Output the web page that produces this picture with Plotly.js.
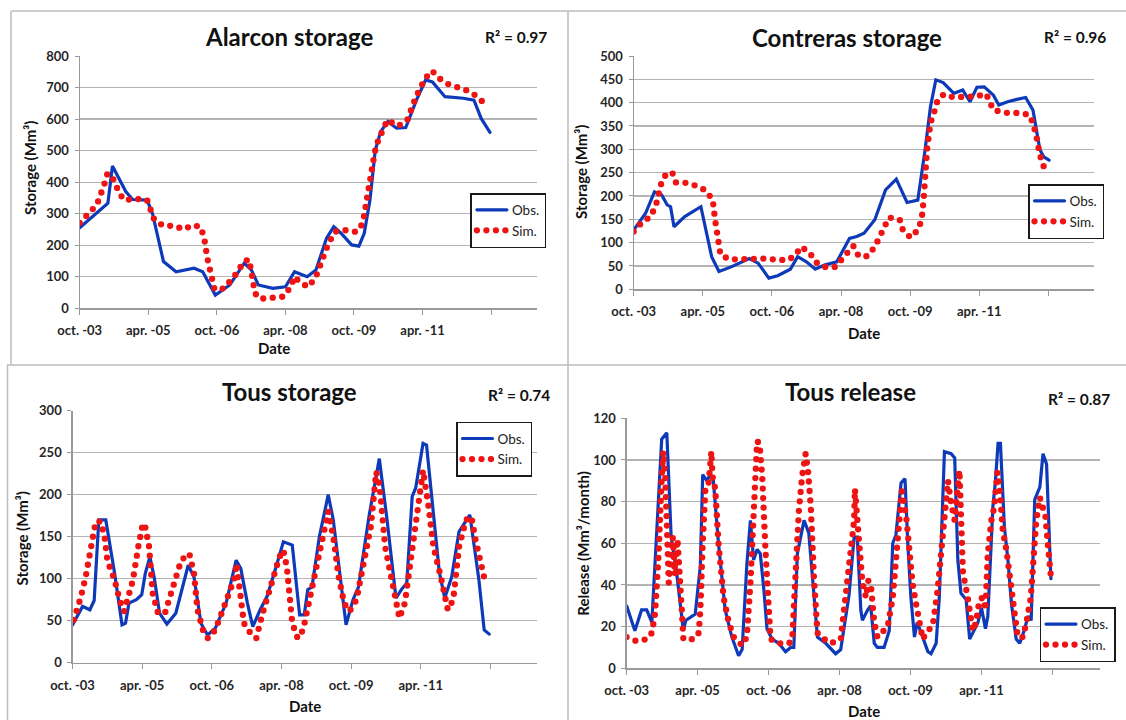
<!DOCTYPE html>
<html><head><meta charset="utf-8">
<script src="https://cdn.plot.ly/plotly-3.0.1.min.js"></script>
<style>
html,body{margin:0;padding:0;background:#fff;}
#chart{width:1126px;height:720px;}
.js-line{stroke-linecap:round;}
</style></head><body><div id="chart"></div>
<script>
// x = months since Oct 2003
const tickMonths = [0,18,36,54,72,90];
const tickLabels = ['oct. -03','apr. -05','oct. -06','apr. -08','oct. -09','apr. -11'];
const extraTickMonths = [108];   // unlabelled tick (oct. -12)

// Alarcon storage (Mm3)
const alarconObsMonth = [0,4.5,7.4,8.6,12.1,13.9,17.7,19.1,22,25.3,30,32.3,35.6,39.4,43.2,45.1,46.9,50.7,54,56.4,59.7,62,64.8,66.7,68.6,71.4,73.3,74.7,76.2,77.6,79,80.9,83.2,85.6,88.4,90.8,92.6,95.9,100.7,103.5,105.4,107.7];
const alarconObs      = [255,301,333,451,370,345,343,301,148,116,127,116,42,74,143,121,74,63,68,116,100,121,222,259,238,201,197,238,343,502,560,592,571,573,660,724,718,671,666,660,602,558];
const alarconSimMonth = [0,2.2,4.5,6.4,7.3,9,10.2,11.6,14.8,17.7,18.6,19.6,21.9,25.2,27.1,29.9,31.8,32.7,33.5,34.6,35.4,37.9,41.2,43.1,44.4,45,46,47.3,50.6,53.5,55.4,56.3,58.2,60.1,62,63.9,65.3,67.1,69.5,72.3,73.7,74.6,75.6,76.5,77.5,78.4,79.8,80.8,83.6,86,88.3,90.7,92.5,94.4,96.7,99.1,101.4,103.8,106.1];
const alarconSim      = [271,301,328,391,428,407,370,343,347,343,317,280,262,261,250,264,257,222,159,90,60,63,111,148,155,121,48,30,34,37,68,100,79,68,100,159,206,243,248,243,254,290,359,438,497,534,565,597,578,597,671,729,753,729,711,703,692,676,652];

// Contreras storage (Mm3)
const contrerasObsMonth = [0,3.1,5.4,7.3,8.7,9.6,10.5,13.3,17.5,18.9,20.3,22.2,25.4,30.1,32.4,35.2,37.5,40.8,42.7,45,47.3,49.7,52.9,56.2,58.1,60,62.8,65.6,68.4,71.2,74,75.9,77.3,78.7,80.6,83.4,85.7,87.6,89.4,91.3,93.7,95.1,97.4,99.8,102.1,104,105.8,106.8,108.2];
const contrerasObs      = [127,163,209,202,181,177,134,156,177,120,70,38,48,66,56,24,29,43,70,59,43,52,59,109,113,120,149,213,236,186,191,299,391,449,443,420,427,402,433,434,416,395,402,407,411,384,299,284,277];
const contrerasSimMonth = [0,2.3,4.5,5.9,7.3,8.7,10.1,11,13.8,16.6,18.9,20.6,21.2,22,22.6,25,28.2,31,34.3,37.5,40.3,42.2,43.6,45.9,47.3,49.7,52.5,54.4,56.2,57.2,58.6,60.9,62.8,64.2,66.5,69.3,70.1,72.1,74,75,75.5,76.4,77.3,78.3,79.2,80.8,83.4,86.2,89,91.8,93.7,97.4,100.2,103,104,104.9,105.8,106.8];
const contrerasSim      = [124,145,156,184,231,250,249,229,228,221,211,191,149,99,74,64,65,66,66,63,63,74,91,78,59,48,48,66,86,93,71,71,91,113,154,149,127,111,127,149,190,299,356,381,406,418,411,413,413,419,384,378,378,374,356,327,288,263];

// Tous storage (Mm3)
const tousObsMonth = [0,2.6,4.5,5.6,6.8,8.6,10.9,12.8,13.7,14.6,16.5,17.9,18.8,20,21.1,22.5,24.4,26.7,29.9,31.4,33.2,34.9,36.9,39.7,42.3,43.5,45.2,46.6,48.5,50.3,52.6,54.5,56.8,57.7,58.7,59.9,60.8,61.9,63.8,66.1,67.4,69.3,70.7,72.5,73.9,76.7,79.3,81.3,83.6,85,86.4,87.8,88.7,90.6,91.5,93.4,94.8,96.2,98,99.9,102.7,105,106.4,107.7];
const tousObs      = [45,67,63,74,170,170,106,45,47,71,75,81,106,126,102,59,46,59,116,102,47,33,41,71,122,112,71,43,63,79,114,144,140,102,57,57,87,90,150,200,170,98,45,75,90,176,243,170,77,87,95,198,208,261,259,172,108,77,102,156,176,100,39,34];
const tousSimMonth = [0.3,2.1,3.4,4.8,6,7.3,8.3,9,10.9,12.3,13.3,14.2,15.6,17,18.2,18.8,19.8,20.7,22.1,23.9,25.8,28.1,30.2,31.4,32.3,33.7,35,36.9,39.2,42,42.4,43.2,44.3,45.7,47.5,48.9,51.7,53.5,54.5,55.4,56.8,58.2,59.6,60.9,62.8,65.1,66.1,67.4,68.8,70.2,71.6,73.4,75.3,77.1,78.5,79.4,80.8,82.2,84.5,85.9,87.3,89.1,90.6,91.9,93.3,95.2,97,98.4,99.9,101.7,103.1,104,105.4,106.8];
const tousSim      = [51,77,102,138,168,168,150,122,98,73,61,75,98,138,166,162,138,83,59,59,87,122,130,106,63,39,29,39,67,102,118,87,47,37,29,55,98,126,134,114,47,29,39,67,102,150,180,150,102,71,61,75,118,162,227,210,138,106,53,71,122,176,229,190,138,102,63,75,138,170,174,150,122,93];

// Tous release (Mm3/month)
const releaseObsMonth = [0,2.1,3.8,5.1,6.4,8.9,10.2,11.3,12.5,14,14.4,15,17.4,18.7,19.3,20.4,21.2,22,23.3,25,26.7,28.4,29.3,30.5,31.4,32.2,33.1,33.9,34.8,35.6,36.9,38.6,40.3,41.6,42.4,43.3,45,46.2,47.5,48.4,50.5,53,54.3,56,56.4,57.7,58.5,59.4,59.8,61.1,61.9,62.8,63.6,65.3,66.6,67.5,68.3,69.6,70.6,71.3,72.1,73,73.7,74.7,76.4,77.2,78.5,79.3,80.6,82.3,83.2,84,84.8,86.1,87,87.8,89.1,90,91,91.6,92.9,93.5,94.2,94.8,95.8,96.7,97.6,98.8,99.7,100.8,101.8,102.6,103.5,104.8,105.6,106.5,107.1,107.6];
const releaseObs      = [30,18,28,28,22,110,113,63,49,25,18,23,26,49,93,90,93,90,60,28,15,6,9,50,71,52,57,55,38,19,14,12,8,10,10,55,71,65,34,15,12,7,9,30,35,63,63,28,23,28,30,12,10,10,18,60,64,89,91,60,34,15,22,17,8,7,12,34,104,103,101,52,36,33,14,17,22,29,19,25,78,89,108,108,68,52,31,14,12,18,25,23,81,87,103,98,68,43];
const releaseSimMonth = [0,2.6,5.1,6.4,7.2,8.1,8.9,9.3,9.8,10.2,10.7,11.7,12.3,12.9,13.4,14,14.4,17,18.3,18.7,19.3,20,20.8,21.5,21.8,22.5,23.3,24.6,25.9,27.2,29.3,30.5,31.4,32.3,33.1,33.7,34.4,35.2,35.9,36.5,38.6,41.2,42,42.8,43.7,44.5,45.4,46,46.7,47.5,48.4,50.1,51.8,54.3,55.1,56,56.8,57.7,57.9,58.4,59,59.4,59.8,60.7,61.3,61.9,62.4,62.8,63.6,64.9,66.2,67.5,68.3,69.1,69.8,70.9,71.7,72.5,73.4,74.2,75.1,76.3,77.6,78.9,79.6,80.6,81.5,82.3,83.2,84.4,85.3,86.5,87.8,88.6,89.5,90.4,91,91.6,92.5,93.3,94,94.6,95.4,96.3,97.1,98.4,99.2,100.5,101.4,102.5,103.3,103.9,104.8,105.6,106.2,106.9,107.7];
const releaseSim      = [15,13,14,17,26,54,92,104,92,76,41,63,45,62,40,28,14,14,17,28,60,87,89,104,92,86,60,34,22,15,11,15,41,76,109,108,92,57,33,14,12,12,14,47,76,92,103,95,78,44,17,14,12,14,28,41,57,71,86,76,63,52,41,34,42,41,30,22,15,18,20,34,52,71,85,73,52,41,31,22,14,18,20,38,54,76,90,79,71,95,46,34,18,22,33,34,28,55,71,78,94,86,66,57,44,26,15,15,22,34,60,71,82,78,73,58,42];

const W = 1126, H = 720;
const fx = x => x / W, fy = y => 1 - y / H;
const FONT = 'Lato, "Open Sans", sans-serif';
const BLUE = '#0d3ab8', RED = '#ee1414';

const panels = [
  {box:[79.7,536.8,56,308.3], yr:[0,800], dt:100, title:'Alarcon storage', tPos:[289,36], r2:'0.97', rPos:[516,37],
   ylab:'Storage (Mm³)', yPos:[30,168], dPos:[274,348], leg:[470.4,193],
   obs:[alarconObsMonth, alarconObs], sim:[alarconSimMonth, alarconSim]},
  {box:[633.7,1094.4,56,289.3], yr:[0,500], dt:50, title:'Contreras storage', tPos:[847,37], r2:'0.96', rPos:[1075,37],
   ylab:'Storage (Mm³)', yPos:[581,172], dPos:[863.5,333], leg:[1028,184],
   obs:[contrerasObsMonth, contrerasObs], sim:[contrerasSimMonth, contrerasSim]},
  {box:[72.5,536.8,410.7,662.7], yr:[0,300], dt:50, title:'Tous storage', tPos:[289,392], r2:'0.74', rPos:[519,395],
   ylab:'Storage (Mm³)', yPos:[21.5,539], dPos:[305,705.7], leg:[456,421.7],
   obs:[tousObsMonth, tousObs], sim:[tousSimMonth, tousSim]},
  {box:[626.6,1099.8,418.3,668.3], yr:[0,120], dt:20, title:'Tous release', tPos:[850,392], r2:'0.87', rPos:[1079,399],
   ylab:'Release (Mm³/month)', yPos:[582.7,543], dPos:[863.7,710.7], leg:[1039.5,607.3],
   obs:[releaseObsMonth, releaseObs], sim:[releaseSimMonth, releaseSim]}
];

const traces = [], annotations = [];
const layout = {
  width: W, height: H, margin:{l:0,r:0,t:0,b:0},
  paper_bgcolor:'#fff', plot_bgcolor:'#fff',
  font:{family:FONT, color:'#222'},
  showlegend:true, annotations, shapes:[]
};

panels.forEach((p,i) => {
  const n = i === 0 ? '' : String(i+1);
  const xa = 'x' + n, ya = 'y' + n, legName = 'legend' + n;
  const [x0,x1,y0,y1] = p.box;
  layout['xaxis'+n] = {
    domain:[fx(x0), fx(x1)], anchor: ya, range:[0,120], type:'linear',
    tickmode:'array', tickvals: tickMonths, ticktext: tickLabels,
    minor:{tickmode:'array', tickvals: extraTickMonths, ticks:'outside', ticklen:5, tickcolor:'#9a9a9a', showgrid:false},
    showgrid:false, zeroline:false, showline:true, linecolor:'#9a9a9a', linewidth:1.2,
    ticks:'outside', ticklen:5, tickcolor:'#9a9a9a', ticklabelstandoff:5,
    tickfont:{family:FONT, size:13, weight:'bold', color:'#262626'}, fixedrange:true
  };
  layout['yaxis'+n] = {
    domain:[fy(y1), fy(y0)], anchor: xa, range:p.yr, dtick:p.dt, tick0:0,
    showgrid:true, gridcolor:'#b4b4b4', gridwidth:1.3, zeroline:false,
    showline:true, linecolor:'#9a9a9a', linewidth:1.2,
    ticks:'outside', ticklen:4, tickcolor:'#9a9a9a', ticklabelstandoff:3,
    tickfont:{family:FONT, size:13, weight:'bold', color:'#262626'}, fixedrange:true
  };
  traces.push({
    x:p.obs[0], y:p.obs[1], xaxis:xa, yaxis:ya, type:'scatter', mode:'lines', name:'Obs.',
    line:{color:BLUE, width:3.2}, legend:legName, hoverinfo:'skip'
  });
  traces.push({
    x:p.sim[0], y:p.sim[1], xaxis:xa, yaxis:ya, type:'scatter', mode:'lines', name:'Sim.',
    line:{color:RED, width:6.3, dash:'0px,9.5px'}, legend:legName, hoverinfo:'skip'
  });
  layout[legName] = {
    x: fx(p.leg[0]), y: fy(p.leg[1]), xanchor:'left', yanchor:'top', xref:'paper', yref:'paper',
    bgcolor:'#fff', bordercolor:'#1a1a1a', borderwidth:1.5,
    font:{family:FONT, size:13.5, color:'#222'}, itemwidth:30, tracegroupgap:0
  };
  annotations.push({xref:'paper', yref:'paper', x:fx(p.tPos[0]), y:fy(p.tPos[1]), xanchor:'center', yanchor:'middle',
    text:p.title, showarrow:false, font:{family:FONT, size:24, weight:'bold', color:'#111'}});
  annotations.push({xref:'paper', yref:'paper', x:fx(p.rPos[0]), y:fy(p.rPos[1]), xanchor:'center', yanchor:'middle',
    text:'R² = ' + p.r2, showarrow:false, font:{family:FONT, size:15.5, weight:'bold', color:'#111'}});
  annotations.push({xref:'paper', yref:'paper', x:fx(p.yPos[0]), y:fy(p.yPos[1]), xanchor:'center', yanchor:'middle',
    text:p.ylab, textangle:-90, showarrow:false, font:{family:FONT, size:15, weight:'bold', color:'#111'}});
  annotations.push({xref:'paper', yref:'paper', x:fx(p.dPos[0]), y:fy(p.dPos[1]), xanchor:'center', yanchor:'middle',
    text:'Date', showarrow:false, font:{family:FONT, size:15, weight:'bold', color:'#111'}});
});

// chart-area frames
const frameLine = (xA,yA,xB,yB) => ({type:'line', xref:'paper', yref:'paper', x0:fx(xA), y0:fy(yA), x1:fx(xB), y1:fy(yB),
  line:{color:'#bdbdbd', width:1.5}});
layout.shapes.push(frameLine(11,11,1126,11));
layout.shapes.push(frameLine(11,11,11,365));
layout.shapes.push(frameLine(7,365,1126,365));
layout.shapes.push(frameLine(7.5,365,7.5,720));
layout.shapes.push(frameLine(568,11,568,720));

Plotly.newPlot('chart', traces, layout, {staticPlot:true, displayModeBar:false});
</script></body></html>
